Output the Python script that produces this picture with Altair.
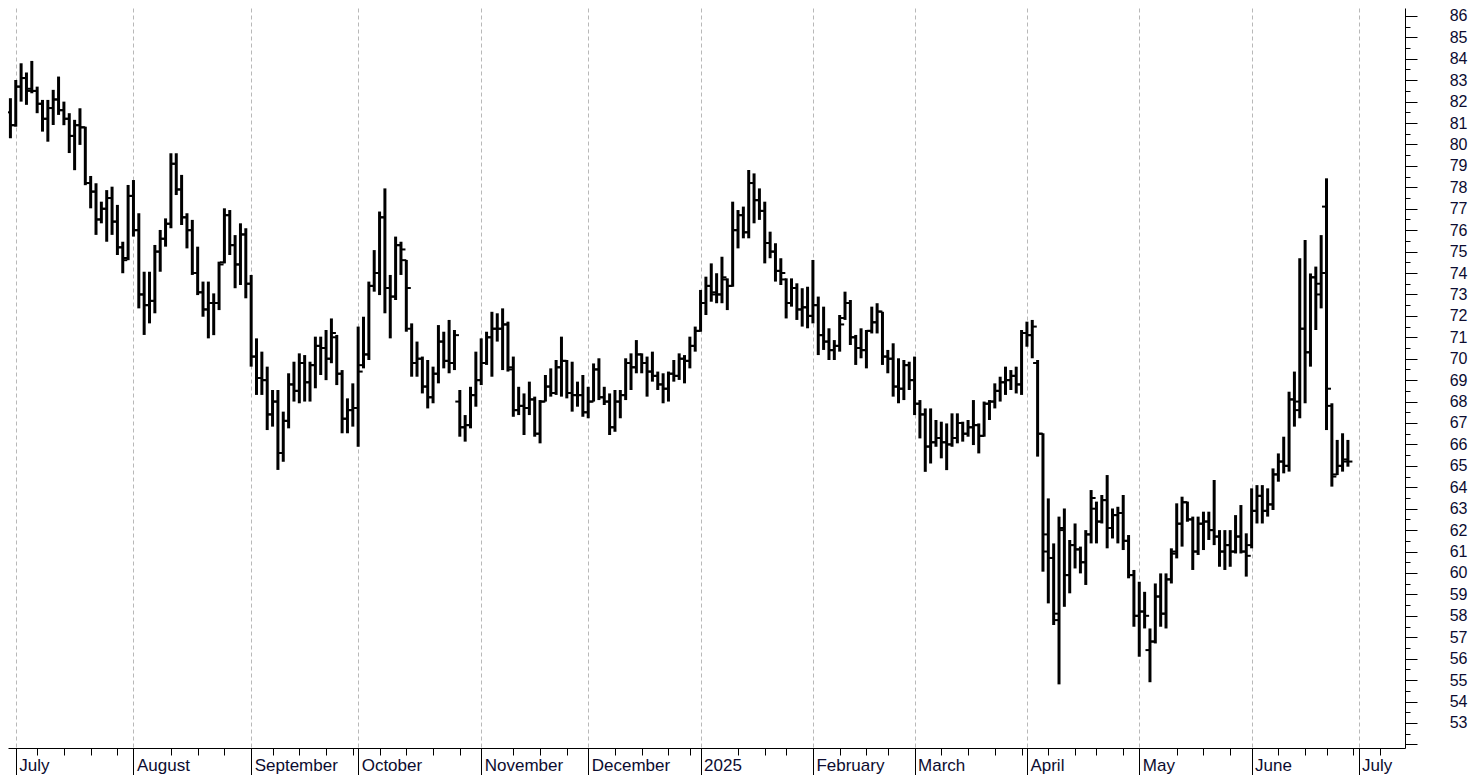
import json
import altair as alt
import pandas as pd

# ---------------- data ----------------
HIGH = [
    82.16, 83.01, 83.79, 83.36, 83.90, 82.70, 82.08, 82.08, 82.55, 83.17,
    82.00, 81.46, 81.15, 81.69, 80.83, 78.53, 78.19, 77.33, 77.87, 78.03,
    77.18, 75.46, 78.11, 78.34, 76.79, 74.06, 74.06, 75.31, 76.01, 76.55,
    79.59, 79.59, 78.58, 76.79, 76.48, 75.23, 73.60, 73.60, 73.05, 74.53,
    77.02, 76.94, 75.77, 76.32, 76.09, 73.91, 70.95, 70.33, 69.63, 68.54,
    68.54, 67.53, 69.32, 69.86, 70.25, 70.17, 69.86, 71.03, 71.03, 71.34,
    71.88, 71.11, 69.47, 68.15, 68.85, 71.50, 71.96, 73.60, 75.07, 76.87,
    77.95, 73.91, 75.70, 75.46, 74.61, 71.65, 70.80, 70.10, 69.94, 69.63,
    71.57, 71.26, 71.81, 71.34, 68.54, 67.37, 68.69, 70.33, 70.95, 71.26,
    72.19, 72.12, 72.35, 71.73, 70.10, 68.69, 68.38, 68.93, 68.23, 68.07,
    69.24, 69.55, 69.94, 71.03, 69.94, 69.86, 68.93, 69.24, 68.69, 69.78,
    70.02, 68.69, 68.38, 68.54, 68.54, 70.02, 70.25, 70.87, 70.25, 70.10,
    70.33, 69.40, 69.32, 69.40, 69.94, 70.25, 70.17, 71.03, 71.50, 73.21,
    73.83, 74.45, 73.99, 74.76, 73.75, 77.33, 76.94, 77.10, 78.81, 78.65,
    77.95, 77.33, 75.93, 75.39, 74.69, 73.75, 73.75, 73.52, 73.29, 73.36,
    74.61, 72.90, 72.43, 71.42, 70.87, 72.04, 73.13, 72.74, 71.11, 71.42,
    71.34, 72.43, 72.59, 72.19, 70.41, 70.72, 70.02, 69.94, 69.86, 70.10,
    68.07, 67.68, 67.68, 67.14, 67.06, 66.98, 67.45, 67.45, 67.06, 67.14,
    68.07, 66.98, 68.00, 68.07, 68.85, 69.16, 69.63, 69.47, 69.63, 71.34,
    71.73, 71.81, 69.94, 66.52, 63.48, 61.38, 62.63, 63.01, 61.54, 62.31,
    61.23, 62.00, 63.87, 63.33, 63.64, 64.57, 63.01, 63.09, 63.64, 61.77,
    60.14, 59.59, 59.12, 57.41, 59.51, 59.98, 59.98, 61.15, 63.25, 63.56,
    63.33, 62.63, 62.63, 62.86, 62.86, 64.34, 62.00, 62.00, 62.00, 62.70,
    63.17, 61.85, 63.95, 64.10, 64.10, 63.95, 64.88, 65.58, 66.36, 68.46,
    69.40, 74.69, 75.54, 73.98, 74.30, 75.77, 78.42, 67.92, 66.21, 66.52,
    66.21,
]
LOW = [
    80.29, 80.83, 82.00, 81.85, 82.39, 81.46, 80.60, 80.13, 80.91, 81.38,
    80.90, 79.60, 78.80, 79.98, 78.10, 77.02, 75.78, 76.32, 75.46, 75.78,
    74.84, 73.99, 74.60, 75.70, 72.35, 71.11, 71.65, 72.12, 74.06, 75.23,
    76.09, 77.64, 76.24, 75.15, 73.91, 72.97, 71.96, 70.95, 71.10, 72.27,
    74.45, 74.84, 73.29, 73.44, 72.82, 69.63, 68.31, 68.31, 66.67, 66.83,
    64.81, 65.19, 66.75, 68.00, 67.92, 68.00, 68.00, 68.62, 69.24, 69.00,
    69.79, 68.77, 66.52, 66.52, 66.83, 65.89, 69.55, 69.94, 73.13, 72.97,
    72.12, 70.95, 72.74, 73.91, 71.26, 69.16, 69.16, 68.38, 67.68, 67.92,
    68.85, 69.55, 69.32, 69.47, 66.36, 66.13, 66.75, 67.76, 68.77, 69.71,
    69.16, 70.80, 69.47, 69.40, 67.29, 67.37, 66.44, 67.37, 66.36, 66.05,
    68.00, 68.23, 68.31, 68.23, 68.15, 67.53, 67.76, 67.29, 67.22, 68.00,
    68.07, 67.84, 66.44, 66.59, 67.22, 68.07, 68.54, 69.32, 69.32, 68.23,
    68.93, 68.54, 67.92, 68.00, 68.93, 69.01, 68.85, 69.55, 70.33, 71.26,
    72.04, 72.66, 72.59, 72.59, 72.27, 73.36, 75.15, 75.62, 75.62, 76.32,
    76.48, 74.45, 74.69, 73.60, 73.44, 71.88, 72.43, 71.81, 71.50, 71.42,
    71.65, 70.17, 70.41, 69.94, 69.94, 70.33, 71.81, 70.64, 69.71, 70.02,
    69.55, 71.18, 71.18, 69.71, 69.32, 68.23, 67.92, 68.07, 68.54, 67.37,
    66.28, 64.72, 65.11, 65.89, 65.35, 64.80, 65.89, 66.05, 66.13, 66.36,
    65.97, 65.58, 66.36, 67.14, 67.68, 68.00, 68.31, 68.54, 68.38, 68.31,
    70.56, 70.02, 65.43, 60.06, 58.58, 57.57, 54.80, 58.42, 59.05, 60.21,
    59.98, 59.44, 61.38, 61.38, 62.31, 61.15, 61.61, 61.38, 61.07, 59.75,
    57.49, 56.09, 57.41, 54.90, 56.71, 57.49, 57.41, 59.51, 60.68, 61.23,
    62.39, 60.14, 60.84, 61.07, 61.54, 61.30, 60.29, 60.14, 60.29, 60.91,
    60.91, 59.83, 61.15, 62.31, 62.31, 62.63, 62.94, 64.26, 64.65, 64.73,
    66.83, 67.22, 67.92, 69.63, 71.34, 72.35, 66.67, 64.03, 64.57, 64.73,
    64.96,
]
OPEN = [
    81.5, 80.9, 82.7, 83.1, 82.6, 82.5, 81.9, 81.2, 81.7, 82.1,
    81.6, 81.2, 80.4, 80.9, 80.8, 78.2, 77.8, 76.5, 77.0, 77.5,
    76.4, 75.2, 74.7, 77.6, 76.0, 73.0, 72.5, 72.7, 75.0, 75.6,
    76.3, 79.1, 77.9, 76.6, 76.0, 74.0, 73.1, 72.3, 72.6, 72.6,
    74.5, 76.7, 75.3, 74.4, 75.8, 73.5, 70.1, 69.1, 69.0, 67.4,
    68.0, 65.6, 67.1, 68.8, 68.5, 69.8, 68.9, 69.7, 70.6, 70.5,
    70.0, 71.0, 69.3, 67.2, 67.6, 67.7, 69.7, 70.2, 73.4, 74.0,
    76.6, 73.3, 72.9, 75.3, 74.6, 71.4, 69.8, 70.0, 68.7, 68.2,
    69.3, 70.8, 69.9, 69.8, 68.0, 66.8, 66.9, 68.3, 69.0, 69.8,
    71.0, 71.4, 71.4, 71.6, 69.5, 67.6, 67.8, 67.7, 68.1, 66.5,
    68.0, 68.7, 68.4, 69.6, 69.9, 68.4, 68.3, 68.3, 67.5, 68.0,
    69.5, 68.2, 68.0, 66.8, 68.0, 68.3, 69.8, 69.6, 70.2, 69.8,
    69.4, 69.2, 68.8, 68.6, 69.3, 69.2, 70.0, 69.9, 70.6, 71.3,
    72.6, 73.4, 73.1, 73.0, 73.7, 73.4, 76.0, 76.7, 75.9, 78.2,
    77.4, 76.9, 75.4, 75.0, 74.1, 73.7, 72.6, 73.3, 72.3, 72.4,
    72.0, 72.5, 71.1, 70.8, 70.4, 70.6, 71.9, 72.6, 71.0, 70.5,
    70.4, 71.3, 71.7, 72.2, 70.1, 70.0, 68.7, 68.6, 69.7, 69.0,
    67.9, 67.4, 65.9, 66.1, 66.3, 66.1, 66.0, 66.3, 67.0, 66.5,
    66.8, 66.9, 66.4, 67.9, 68.0, 68.5, 68.9, 69.0, 69.2, 68.8,
    71.2, 71.1, 69.8, 66.5, 61.0, 60.7, 57.8, 62.0, 59.9, 61.3,
    61.1, 60.5, 61.8, 63.0, 62.4, 63.4, 62.1, 62.7, 62.8, 61.5,
    59.9, 58.0, 58.2, 56.4, 56.8, 58.9, 58.1, 59.7, 61.0, 62.3,
    63.3, 62.5, 61.0, 62.3, 62.4, 62.0, 61.7, 61.0, 61.3, 61.0,
    61.7, 61.0, 61.3, 62.9, 63.6, 62.9, 63.2, 64.6, 65.2, 65.0,
    68.1, 68.0, 71.4, 70.3, 73.8, 73.0, 77.1, 67.8, 64.6, 65.0,
    65.3,
]
CLOSE = [
    80.9, 82.7, 83.1, 82.5, 82.5, 81.9, 81.2, 81.7, 82.1, 81.6,
    81.2, 80.4, 80.9, 80.8, 78.2, 77.8, 76.5, 77.0, 77.5, 76.4,
    75.2, 74.6, 77.6, 76.0, 73.0, 72.5, 72.7, 75.0, 75.6, 76.3,
    79.1, 77.9, 76.6, 76.0, 74.0, 73.1, 72.3, 72.6, 72.6, 74.4,
    76.7, 75.3, 74.4, 75.8, 73.5, 70.1, 69.1, 69.0, 67.4, 68.0,
    65.6, 67.1, 68.8, 68.5, 69.8, 68.9, 69.7, 70.6, 70.5, 70.0,
    71.2, 69.3, 67.2, 67.6, 67.7, 69.4, 70.2, 73.4, 74.0, 76.6,
    73.3, 72.9, 75.3, 75.1, 73.3, 69.8, 70.0, 68.7, 68.2, 69.3,
    70.8, 69.9, 69.8, 71.1, 66.8, 66.9, 68.3, 69.0, 69.8, 71.0,
    71.4, 71.4, 71.6, 69.6, 67.6, 67.8, 67.7, 68.1, 66.5, 68.0,
    68.7, 68.4, 69.6, 69.9, 68.4, 68.3, 68.3, 67.5, 68.0, 69.5,
    68.2, 68.0, 66.8, 68.0, 68.3, 69.8, 69.6, 70.2, 69.8, 69.4,
    69.2, 68.8, 68.6, 69.3, 69.2, 70.0, 69.9, 70.6, 71.3, 72.6,
    73.4, 73.0, 73.0, 73.8, 73.4, 76.0, 76.7, 75.9, 78.2, 77.4,
    76.9, 75.4, 75.0, 74.1, 74.0, 72.6, 73.3, 72.3, 72.4, 72.0,
    72.5, 71.1, 70.8, 70.4, 70.6, 71.6, 72.6, 71.0, 70.5, 70.4,
    71.3, 71.7, 72.2, 70.1, 70.0, 68.7, 68.6, 69.7, 69.0, 67.9,
    67.4, 65.9, 66.1, 66.3, 66.1, 66.0, 66.3, 67.0, 66.5, 66.8,
    66.9, 66.4, 67.9, 68.0, 68.5, 68.9, 69.0, 69.2, 68.8, 71.2,
    71.1, 71.5, 66.5, 61.8, 60.7, 58.1, 62.1, 59.9, 61.3, 61.1,
    60.5, 61.8, 63.5, 62.4, 63.4, 62.1, 62.7, 62.8, 61.5, 59.9,
    58.0, 58.2, 58.0, 56.8, 58.9, 58.1, 59.7, 60.9, 62.3, 63.3,
    62.5, 61.0, 62.3, 62.4, 62.0, 61.7, 61.0, 61.3, 61.0, 61.7,
    61.0, 60.8, 62.9, 63.6, 62.9, 63.2, 64.6, 65.2, 65.0, 68.1,
    67.6, 71.4, 70.3, 73.8, 73.5, 74.0, 68.6, 64.5, 65.0, 65.2,
    65.2,
]

# trading calendar (weekends and exchange holidays skipped)
FIRST_DAY = "2024-06-28"
LAST_DAY = "2025-06-27"
AXIS_LAST_DAY = "2025-07-11"
HOLIDAYS = ["2024-07-04", "2024-09-02", "2024-11-28", "2024-12-25", "2025-01-01",
            "2025-01-20", "2025-02-17", "2025-04-18", "2025-05-26", "2025-06-19"]

trade_days = [d for d in pd.bdate_range(FIRST_DAY, LAST_DAY)
              if d.strftime("%Y-%m-%d") not in HOLIDAYS]
future_days = list(pd.bdate_range(pd.Timestamp(LAST_DAY) + pd.Timedelta(days=1), AXIS_LAST_DAY))
calendar = trade_days + future_days
assert len(trade_days) == len(HIGH) == len(LOW) == len(OPEN) == len(CLOSE)

df = pd.DataFrame({
    "i": list(range(len(trade_days))),
    "date": [d.strftime("%Y-%m-%d") for d in trade_days],
    "open": OPEN, "high": HIGH, "low": LOW, "close": CLOSE,
})

# x axis ticks: month starts (long tick + label), week starts (short tick)
month_idx, month_lbl, week_idx = [], [], []
last_month = None
for k in range(1, len(calendar)):
    d, p = calendar[k], calendar[k - 1]
    if d.month != p.month:
        month_idx.append(k)
        month_lbl.append(str(d.year) if d.month == 1 else d.strftime("%B"))
        last_month = k
    elif d.isocalendar()[1] != p.isocalendar()[1]:
        if last_month is None or k - last_month >= 3:
            week_idx.append(k)
x_ticks = sorted(month_idx + week_idx)
is_month = f"indexof({json.dumps(month_idx)}, datum.value) >= 0"
month_label_expr = (f"{is_month} ? {json.dumps(month_lbl)}"
                    f"[indexof({json.dumps(month_idx)}, datum.value)] : ''")

y_ticks = [v / 2 for v in range(104, 173)]

FONT = "Liberation Sans"
LABEL_COLOR = "#0c0c30"

x_axis = alt.Axis(
    values=x_ticks, title=None, orient="bottom",
    labelExpr=month_label_expr, labelAlign="left", labelOffset=3,
    labelBaseline="alphabetic", labelPadding=-5,
    labelFont=FONT, labelFontSize=17, labelColor=LABEL_COLOR,
    labelOverlap=False, labelFlush=False, labelBound=False,
    tickSize={"condition": {"test": is_month, "value": 27}, "value": 7},
    tickColor="black", tickWidth=1, domainColor="black", domainWidth=1,
    grid=True, gridColor="#b8b8b8", gridDash=[4, 3], gridWidth=1,
    gridOpacity={"condition": {"test": is_month, "value": 1}, "value": 0},
)
y_axis = alt.Axis(
    values=y_ticks, title=None, orient="right",
    labelExpr="datum.value % 1 == 0 && datum.value >= 53 ? format(datum.value, 'd') : ''",
    labelAlign="right", labelPadding=50, labelBaseline="middle",
    labelFont=FONT, labelFontSize=16, labelColor=LABEL_COLOR,
    labelOverlap=False, labelFlush=False, labelBound=False,
    tickSize={"condition": {"test": "datum.value % 1 == 0", "value": 12}, "value": 5},
    tickColor="black", tickWidth=1, domainColor="black", domainWidth=1,
    grid=False,
)

x_scale = alt.Scale(domain=[-0.45, 260.67], nice=False, zero=False)
y_scale = alt.Scale(domain=[51.83, 86.37], nice=False, zero=False)

base = alt.Chart(df)
hl = base.mark_rule(color="black", strokeWidth=3).encode(
    x=alt.X("i:Q", scale=x_scale, axis=x_axis),
    y=alt.Y("low:Q", scale=y_scale, axis=y_axis),
    y2="high:Q",
)
op = base.mark_rule(color="black", strokeWidth=2, xOffset=-4.5, x2Offset=0).encode(
    x=alt.X("i:Q", scale=x_scale, axis=x_axis),
    x2="i:Q",
    y=alt.Y("open:Q", scale=y_scale, axis=y_axis),
)
cl = base.mark_rule(color="black", strokeWidth=2, xOffset=0, x2Offset=4.5).encode(
    x=alt.X("i:Q", scale=x_scale, axis=x_axis),
    x2="i:Q",
    y=alt.Y("close:Q", scale=y_scale, axis=y_axis),
)

chart = (
    alt.layer(hl, op, cl)
    .properties(width=1397, height=740, autosize="none",
                padding={"left": 0, "top": 0, "right": 63, "bottom": 27},
                background="white")
    .configure_view(stroke=None)
)

chart.save("out.html", embed_options={"renderer": "svg", "actions": False})
